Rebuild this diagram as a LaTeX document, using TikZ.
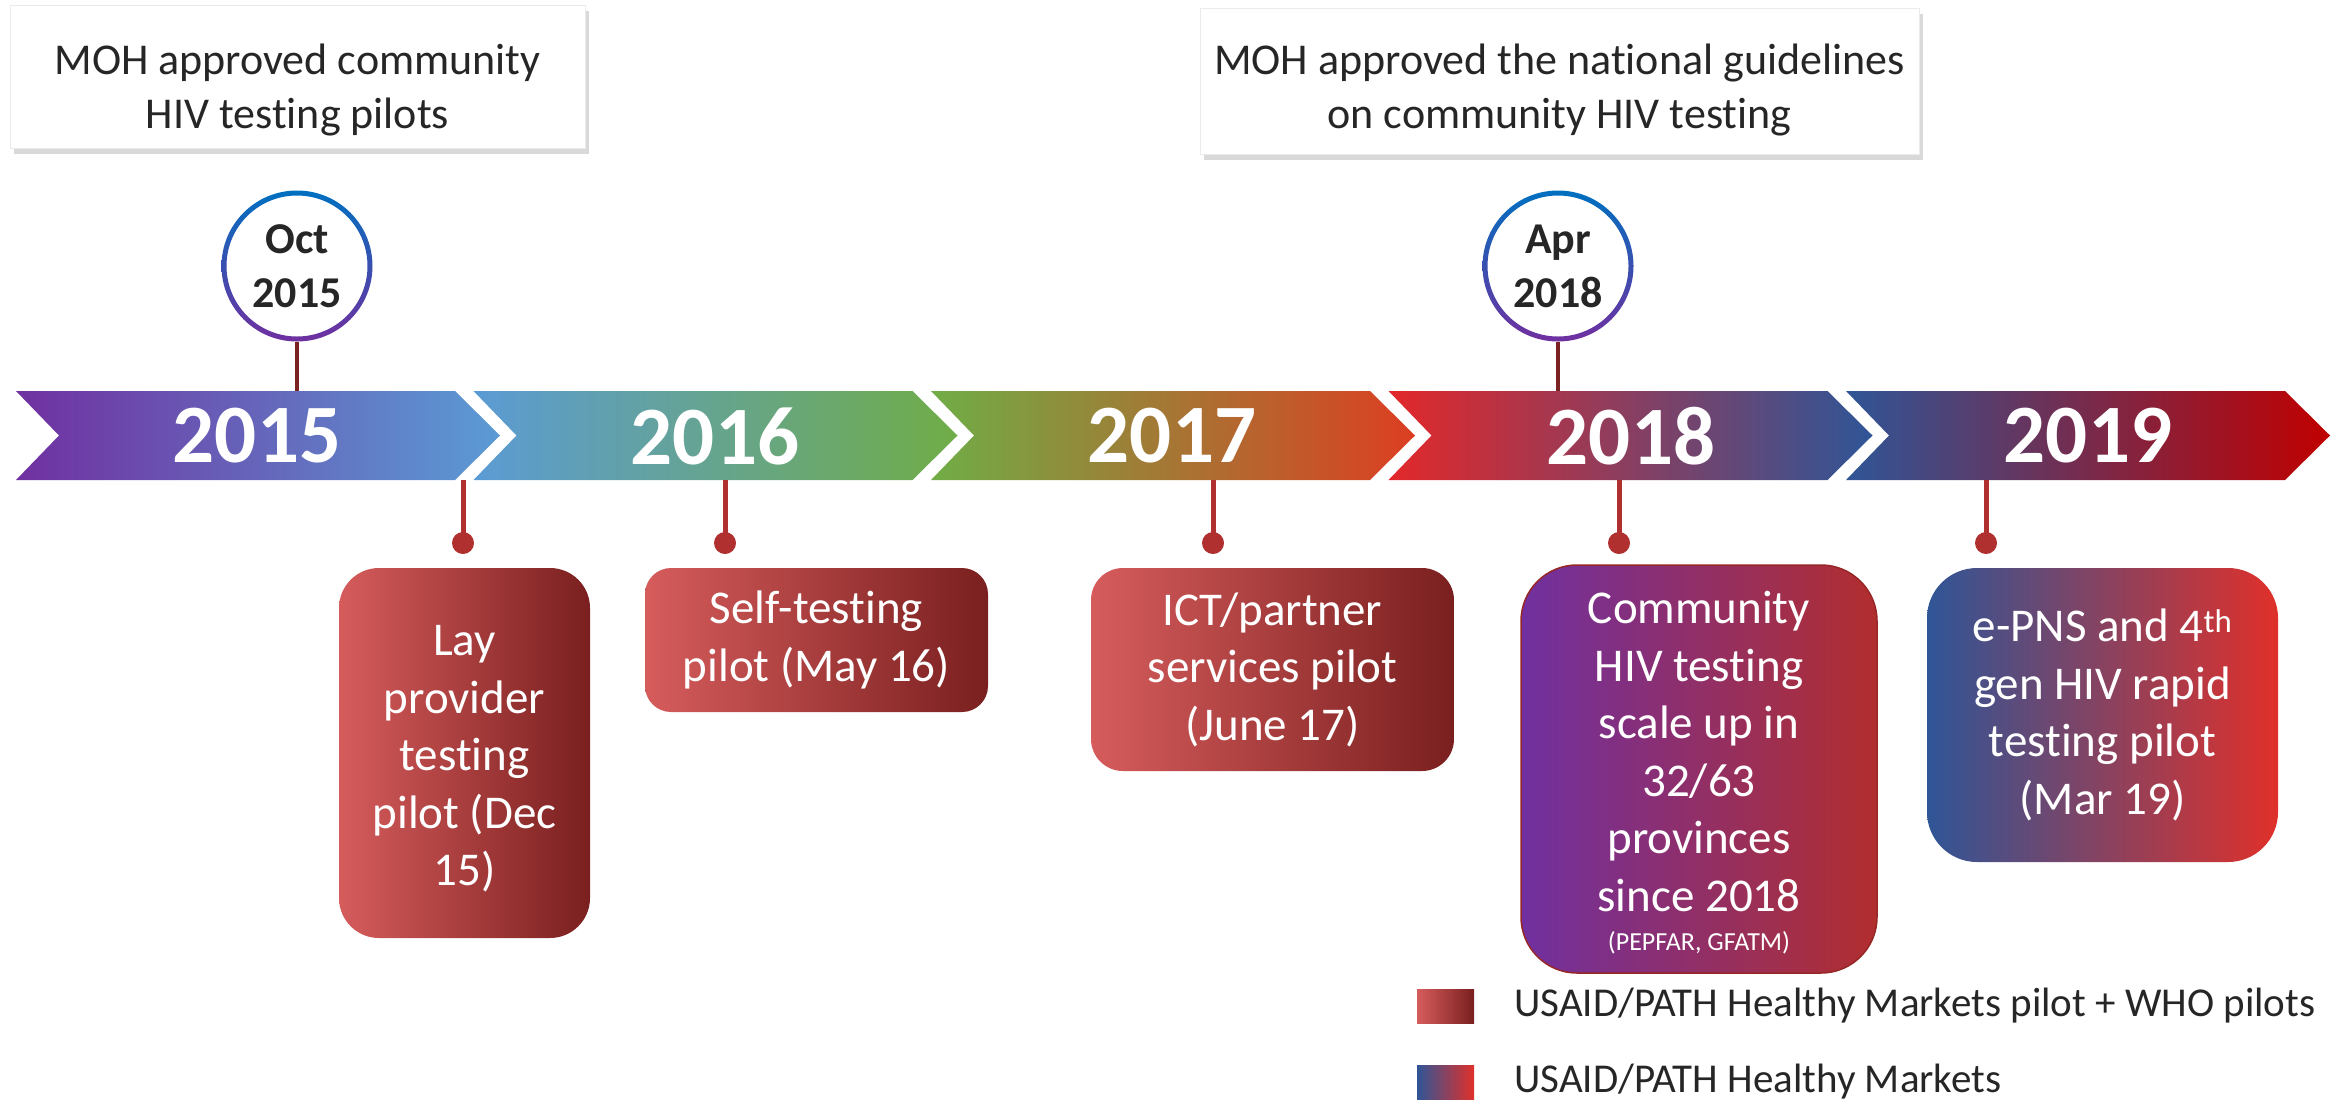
\documentclass[tikz,border=0pt]{standalone}
\usepackage{fontspec}
\setmainfont{Carlito}[Ligatures=NoCommon]
\usetikzlibrary{shadows}
\definecolor{purp}{HTML}{7030A0}
\definecolor{lblue}{HTML}{5B9BD5}
\definecolor{grn}{HTML}{70AD47}
\definecolor{org}{HTML}{DC3E22}
\definecolor{redA}{HTML}{E2282A}
\definecolor{midA}{HTML}{A9466C}
\definecolor{dblue}{HTML}{2F5597}
\definecolor{redB}{HTML}{C00000}
\definecolor{ringtop}{HTML}{0070C0}
\definecolor{stemdark}{HTML}{7B2323}
\definecolor{stemred}{HTML}{B03030}
\definecolor{boxL}{HTML}{D65C5C}
\definecolor{boxR}{HTML}{7A1F1F}
\definecolor{box4R}{HTML}{B22E2E}
\definecolor{box5R}{HTML}{E0302A}
\definecolor{txt}{HTML}{262626}
\begin{document}
\begin{tikzpicture}[x=1pt,y=-1pt,
  yearlabel/.style={text=white,font=\fontsize{83}{90}\selectfont\bfseries,inner sep=0pt},
  milestone/.style={circle,fill=white,inner sep=0pt,minimum size=151pt,align=center,text=txt,
    font=\fontsize{44}{54}\selectfont\bfseries},
  ringshade/.style={top color=ringtop,bottom color=purp,even odd rule},
  stemup/.style={draw=stemdark,line width=4.5pt},
  stemlow/.style={draw=stemred,line width=5pt},
  pin/.style={circle,fill=stemred,inner sep=0pt,minimum size=22pt},
  evbox/.style={align=center,text=white,inner sep=0pt,font=\fontsize{47}{57.5}\selectfont},
  calloutbox/.style={fill=white,draw=black!8,line width=0.8pt,inner sep=0pt,
    drop shadow={shadow xshift=4pt,shadow yshift=-6pt,opacity=0.3}},
  callouttxt/.style={align=center,text=txt,inner sep=0pt,font=\fontsize{44}{54}\selectfont},
  legsw/.style={inner sep=0pt,minimum width=57pt,minimum height=34pt},
  legtxt/.style={anchor=west,text=txt,inner sep=0pt,font=\fontsize{41}{48}\selectfont}
]
\useasboundingbox (0,0) rectangle (2348,1101);

% timeline band
\shade[left color=purp,right color=lblue]
  (16,391) -- (455,391) -- (500,435.5) -- (455,480) -- (16,480) -- (59,435.5) -- cycle;
\shade[left color=lblue,right color=grn]
  (473.5,391) -- (912.5,391) -- (957.5,435.5) -- (912.5,480) -- (473.5,480) -- (516.5,435.5) -- cycle;
\shade[left color=grn,right color=org]
  (931,391) -- (1370,391) -- (1415,435.5) -- (1370,480) -- (931,480) -- (974,435.5) -- cycle;
\shade[left color=redA,middle color=midA,right color=dblue]
  (1388.5,391) -- (1827.5,391) -- (1872.5,435.5) -- (1827.5,480) -- (1388.5,480) -- (1431.5,435.5) -- cycle;
\shade[left color=dblue,right color=redB]
  (1846,391) -- (2285,391) -- (2330,435.5) -- (2285,480) -- (1846,480) -- (1889,435.5) -- cycle;

\node[yearlabel] (y15) at (257,436) {2015};
\node[yearlabel] (y16) at (715,436) {2016};
\node[yearlabel] (y17) at (1172,436) {2017};
\node[yearlabel] (y18) at (1631,436) {2018};
\node[yearlabel] (y19) at (2088,436) {2019};

% callouts
\node[calloutbox,minimum width=575pt,minimum height=143pt] (c1) at (297.5,76.5) {};
\node[callouttxt] (c1t) at (297.5,90) {MOH approved community\\HIV testing pilots};
\node[calloutbox,minimum width=719pt,minimum height=146pt] (c2) at (1559.5,81) {};
\node[callouttxt] (c2t) at (1559.5,90) {MOH approved the national guidelines\\on community HIV testing};

% milestones
\node[milestone] (oct) at (297,266) {Oct\\2015};
\shade[ringshade] (oct.center) circle[radius=75.5pt] (oct.center) circle[radius=70.5pt];
\coordinate (octb) at (297,391);
\draw[stemup] (oct.south) -- (octb);

\node[milestone] (apr) at (1558,266) {Apr\\2018};
\shade[ringshade] (apr.center) circle[radius=75.5pt] (apr.center) circle[radius=70.5pt];
\coordinate (aprb) at (1558,391);
\draw[stemup] (apr.south) -- (aprb);

% pins
\coordinate (s1) at (463,480);  \node[pin] (p1) at (463,543) {};
\coordinate (s2) at (725,480);  \node[pin] (p2) at (725,543) {};
\coordinate (s3) at (1213,480); \node[pin] (p3) at (1213,543) {};
\coordinate (s4) at (1619,480); \node[pin] (p4) at (1619,543) {};
\coordinate (s5) at (1986,480); \node[pin] (p5) at (1986,543) {};
\draw[stemlow] (s1) -- (p1.center);
\draw[stemlow] (s2) -- (p2.center);
\draw[stemlow] (s3) -- (p3.center);
\draw[stemlow] (s4) -- (p4.center);
\draw[stemlow] (s5) -- (p5.center);

% event boxes
\node[evbox,left color=boxL,right color=boxR,rounded corners=40pt,
  minimum width=251pt,minimum height=370pt] (e1) at (464.5,753) {};
\node[evbox] (e1t) at (464.5,759) {Lay\\provider\\testing\\pilot (Dec\\15)};
\node[evbox,left color=boxL,right color=boxR,rounded corners=26pt,
  minimum width=343pt,minimum height=144pt] (e2) at (816.5,640)
  {Self-testing\\pilot (May 16)};
\node[evbox,left color=boxL,right color=boxR,rounded corners=32pt,
  minimum width=363pt,minimum height=203pt] (e3) at (1272.5,669.5)
  {ICT/partner\\services pilot\\(June 17)};
\node[evbox,left color=purp,right color=box4R,draw=box4R!85!black,line width=1.5pt,
  rounded corners=56pt,minimum width=356pt,minimum height=408pt] (e4) at (1699,769) {};
\node[evbox] (e4t) at (1699,773)
  {Community\\HIV testing\\scale up in\\32/63\\provinces\\since 2018\\[-18pt]{\fontsize{26}{30}\selectfont (PEPFAR, GFATM)}};
\node[evbox,left color=dblue,right color=box5R,rounded corners=50pt,
  minimum width=351pt,minimum height=294pt] (e5) at (2102.5,715)
  {e-PNS and 4\textsuperscript{th}\\gen HIV rapid\\testing pilot\\(Mar 19)};

% legend
\node[legsw,left color=boxL,right color=boxR] (lg1) at (1445.5,1006) {};
\node[legtxt] (lt1) at (1514,1006) {USAID/PATH Healthy Markets pilot + WHO pilots};
\node[legsw,left color=dblue,right color=box5R] (lg2) at (1445.5,1082) {};
\node[legtxt] (lt2) at (1514,1082) {USAID/PATH Healthy Markets};
\end{tikzpicture}
\end{document}
